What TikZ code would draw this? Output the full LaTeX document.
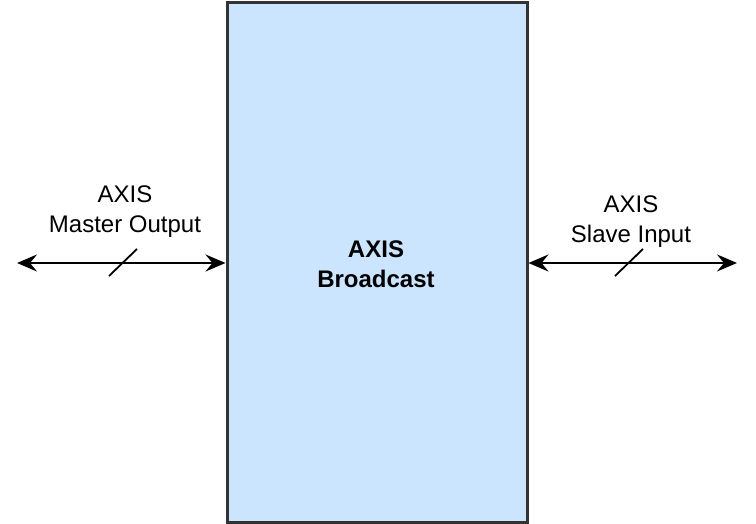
\documentclass[tikz,border=0pt]{standalone}
\usepackage{fontspec}
\setmainfont{Liberation Sans}
\usetikzlibrary{arrows.meta}
\definecolor{boxfill}{HTML}{CCE5FF}
\definecolor{boxline}{HTML}{333333}
\tikzset{
  blockbox/.style={draw=boxline, fill=boxfill, line width=3pt, minimum width=300pt, minimum height=519pt, inner sep=0pt, font=\fontsize{24pt}{30pt}\selectfont\bfseries, align=center},
  tipA/.tip={Stealth[length=20pt,width=17pt,inset=7pt]},
  bus/.style={line width=2pt, tipA-tipA},
  slash/.style={line width=1.8pt},
  lbl/.style={font=\fontsize{24pt}{30pt}\selectfont, align=center, inner sep=0pt}
}
\begin{document}
\begin{tikzpicture}[x=1pt,y=-1pt]
\useasboundingbox (0,0) rectangle (756,524);
\node[blockbox] (blk) at (377,262.5) {};
\node[font=\fontsize{24pt}{30pt}\selectfont\bfseries, align=center, inner sep=0pt] (blkt) at (376,264) {AXIS\\Broadcast};
\coordinate (lend) at (17,263);
\coordinate (rend) at (737,263);
\draw[bus] (lend) -- (blk.west |- lend);
\draw[bus] (blk.east |- rend) -- (rend);
\coordinate (s1a) at (109,276);
\coordinate (s1b) at (137,249);
\coordinate (s2a) at (615,276);
\coordinate (s2b) at (643,249);
\draw[slash] (s1a) -- (s1b);
\draw[slash] (s2a) -- (s2b);
\node[lbl] (ml) at (125,212) {AXIS\\Master Output};
\node[lbl] (sl) at (631,222) {AXIS\\Slave Input};
\end{tikzpicture}
\end{document}
